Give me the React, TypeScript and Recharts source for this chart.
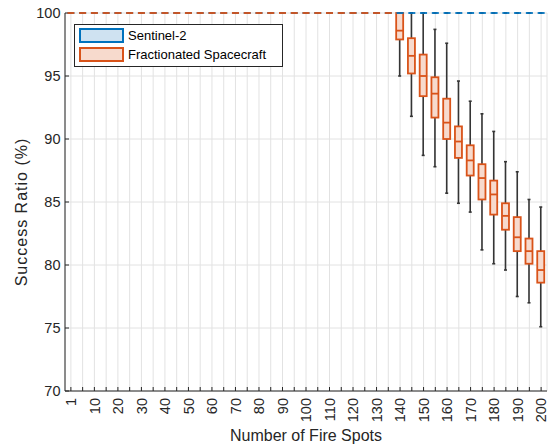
import { ComposedChart, Bar, Scatter, XAxis, YAxis, CartesianGrid, Legend, Label } from "recharts";

// number of fire spots on the x axis
const fireSpots = [
  1, 5, 10, 15, 20, 25, 30, 35, 40, 45, 50, 55, 60, 65, 70, 75, 80, 85, 90, 95, 100,
  105, 110, 115, 120, 125, 130, 135, 140, 145, 150, 155, 160, 165, 170, 175, 180, 185, 190, 195, 200,
];
const labelledSpots = [1, 10, 20, 30, 40, 50, 60, 70, 80, 90, 100, 110, 120, 130, 140, 150, 160, 170, 180, 190, 200];
const yTicks = [70, 75, 80, 85, 90, 95, 100];

// Sentinel-2: every run hits 100 %, so min = q1 = median = q3 = max
const sentinelValues = [
  100, 100, 100, 100, 100, 100, 100, 100, 100, 100, 100, 100, 100, 100, 100, 100, 100, 100, 100, 100, 100,
  100, 100, 100, 100, 100, 100, 100, 100, 100, 100, 100, 100, 100, 100, 100, 100, 100, 100, 100, 100,
];

// Fractionated Spacecraft box statistics
const fracMax = [
  100, 100, 100, 100, 100, 100, 100, 100, 100, 100, 100, 100, 100, 100, 100, 100, 100, 100, 100, 100, 100,
  100, 100, 100, 100, 100, 100, 100, 100, 100, 100, 98.7, 97.6, 94.6, 93.0, 92.0, 90.6, 88.2, 87.4, 85.2, 84.6,
];
const fracQ3 = [
  100, 100, 100, 100, 100, 100, 100, 100, 100, 100, 100, 100, 100, 100, 100, 100, 100, 100, 100, 100, 100,
  100, 100, 100, 100, 100, 100, 100, 100, 98.0, 96.7, 94.9, 93.2, 91.0, 89.5, 88.0, 86.7, 84.9, 83.8, 82.1, 81.1,
];
const fracMedian = [
  100, 100, 100, 100, 100, 100, 100, 100, 100, 100, 100, 100, 100, 100, 100, 100, 100, 100, 100, 100, 100,
  100, 100, 100, 100, 100, 100, 100, 98.6, 96.6, 95.0, 93.6, 91.3, 89.8, 88.3, 86.9, 85.6, 83.9, 82.2, 81.1, 79.6,
];
const fracQ1 = [
  100, 100, 100, 100, 100, 100, 100, 100, 100, 100, 100, 100, 100, 100, 100, 100, 100, 100, 100, 100, 100,
  100, 100, 100, 100, 100, 100, 100, 97.9, 95.2, 93.4, 91.7, 90.0, 88.5, 87.1, 85.2, 84.0, 82.8, 81.1, 80.1, 78.6,
];
const fracMin = [
  100, 100, 100, 100, 100, 100, 100, 100, 100, 100, 100, 100, 100, 100, 100, 100, 100, 100, 100, 100, 100,
  100, 100, 100, 100, 100, 100, 100, 95.0, 91.8, 88.7, 87.8, 85.7, 84.9, 84.2, 81.2, 80.1, 79.6, 77.5, 77.0, 75.1,
];

const FONT = '"Liberation Sans", Arial, Helvetica, sans-serif';
const TEXT = "#262626";
const BLUE = "#0072bd";
const BLUE_FILL = "#cfe2f1";
const ORANGE = "#d95319";
const ORANGE_FILL = "#f7dacd";
const WHISKER = "#353535";
const BOX_W = 7;

const series = [
  { name: "Sentinel-2", stroke: BLUE, fill: BLUE_FILL },
  { name: "Fractionated Spacecraft", stroke: ORANGE, fill: ORANGE_FILL },
];

const data = fireSpots.map((n, i) => ({
  n,
  sMin: sentinelValues[i],
  sQ1: sentinelValues[i],
  sMed: sentinelValues[i],
  sQ3: sentinelValues[i],
  sMax: sentinelValues[i],
  fMin: fracMin[i],
  fQ1: fracQ1[i],
  fMed: fracMedian[i],
  fQ3: fracQ3[i],
  fMax: fracMax[i],
}));

function WhiskerShape(props: any) {
  const { x, y, width, height } = props;
  if (x == null || y == null) return <g />;
  const cx = x + width / 2;
  const top = Math.min(y, y + height);
  const bottom = Math.max(y, y + height);
  return (
    <g>
      <line x1={cx} x2={cx} y1={top} y2={bottom} stroke={WHISKER} strokeWidth={1.6} />
      <line x1={cx - 1.5} x2={cx + 1.5} y1={top} y2={top} stroke={WHISKER} strokeWidth={1.6} />
      <line x1={cx - 1.5} x2={cx + 1.5} y1={bottom} y2={bottom} stroke={WHISKER} strokeWidth={1.6} />
    </g>
  );
}

function makeBoxShape(stroke: string, fill: string) {
  return (props: any) => {
    const { x, y, width, height } = props;
    const h = Math.abs(height || 0);
    if (x == null || h < 0.5) return <g />;
    const top = Math.min(y, y + height);
    return <rect x={x} y={top} width={width} height={h} fill={fill} stroke={stroke} strokeWidth={1.8} />;
  };
}

function makeMedianShape(stroke: string) {
  return (props: any) => {
    const { cx, cy } = props;
    if (cx == null || cy == null) return <g />;
    return <line x1={cx - BOX_W / 2} x2={cx + BOX_W / 2} y1={cy} y2={cy} stroke={stroke} strokeWidth={1.8} />;
  };
}

function XTick(props: any) {
  const { x, y, payload } = props;
  if (!labelledSpots.includes(payload.value)) return <g />;
  return (
    <text
      x={x}
      y={y}
      dy="0.36em"
      transform={`rotate(-90, ${x}, ${y})`}
      textAnchor="end"
      fill={TEXT}
      fontSize={14.5}
      fontFamily={FONT}
    >
      {payload.value}
    </text>
  );
}

function LegendBox() {
  return (
    <div
      style={{
        position: "relative",
        width: 209,
        height: 43,
        boxSizing: "border-box",
        border: `1px solid ${TEXT}`,
        background: "#fff",
        fontFamily: FONT,
        fontSize: 13,
        color: "#000",
      }}
    >
      {series.map((s, i) => (
        <div key={s.name} style={{ position: "absolute", left: 4, top: 3 + i * 19, height: 15, display: "flex", alignItems: "center" }}>
          <span
            style={{
              display: "inline-block",
              width: 45,
              height: 15,
              boxSizing: "border-box",
              border: `2px solid ${s.stroke}`,
              background: s.fill,
            }}
          />
          <span style={{ marginLeft: 4, lineHeight: "15px", whiteSpace: "nowrap" }}>{s.name}</span>
        </div>
      ))}
    </div>
  );
}

function YTitle(props: any) {
  const vb = props.viewBox || { x: 0, y: 13, width: 65, height: 378 };
  const x = vb.x + 21;
  const y = vb.y + vb.height / 2 + 10;
  return (
    <text
      x={x}
      y={y}
      dy="0.36em"
      transform={`rotate(-90, ${x}, ${y})`}
      textAnchor="middle"
      fill={TEXT}
      fontSize={16}
      letterSpacing={1}
      fontFamily={FONT}
    >
      Success Ratio (%)
    </text>
  );
}

const empty = () => <g />;

export default function App() {
  return (
    <div style={{ position: "absolute", left: 0, top: 0, width: 548, height: 444, background: "#fff" }}>
      <ComposedChart
        width={548}
        height={444}
        data={data}
        margin={{ top: 13, right: 1, bottom: 0, left: 0 }}
        barGap={-BOX_W}
        barSize={BOX_W}
      >
        <CartesianGrid stroke="#e2e2e2" strokeWidth={1} />
        <XAxis
          dataKey="n"
          type="category"
          interval={0}
          height={53}
          tickSize={-4}
          tickMargin={11}
          tick={<XTick />}
          axisLine={{ stroke: TEXT }}
          tickLine={{ stroke: TEXT }}
        >
          <Label
            value="Number of Fire Spots"
            position="insideBottom"
            offset={3}
            style={{ fontSize: 16, fill: TEXT, fontFamily: FONT }}
          />
        </XAxis>
        <XAxis
          xAxisId="top"
          dataKey="n"
          type="category"
          orientation="top"
          interval={0}
          height={0}
          tickSize={-4}
          tick={empty}
          axisLine={{ stroke: "#8f8f8f" }}
          tickLine={{ stroke: TEXT }}
        />
        <YAxis
          type="number"
          domain={[70, 100]}
          ticks={yTicks}
          width={65}
          tickSize={-4}
          tickMargin={8.5}
          tick={{ fill: TEXT, fontSize: 14.5, fontFamily: FONT }}
          axisLine={{ stroke: TEXT }}
          tickLine={{ stroke: TEXT }}
        >
          <Label content={<YTitle />} />
        </YAxis>
        <YAxis
          yAxisId="right"
          type="number"
          orientation="right"
          domain={[70, 100]}
          ticks={yTicks}
          width={0}
          tickSize={-4}
          tick={empty}
          axisLine={{ stroke: TEXT }}
          tickLine={{ stroke: TEXT }}
        />
        <Bar dataKey={(d: any) => [d.sMin, d.sMax]} shape={WhiskerShape} isAnimationActive={false} legendType="none" />
        <Bar dataKey={(d: any) => [d.sQ1, d.sQ3]} shape={makeBoxShape(BLUE, BLUE_FILL)} isAnimationActive={false} legendType="none" />
        <Scatter dataKey="sMed" shape={makeMedianShape(BLUE)} isAnimationActive={false} legendType="none" />
        <Bar dataKey={(d: any) => [d.fMin, d.fMax]} shape={WhiskerShape} isAnimationActive={false} legendType="none" />
        <Bar dataKey={(d: any) => [d.fQ1, d.fQ3]} shape={makeBoxShape(ORANGE, ORANGE_FILL)} isAnimationActive={false} legendType="none" />
        <Scatter dataKey="fMed" shape={makeMedianShape(ORANGE)} isAnimationActive={false} legendType="none" />
        <Legend
          content={<LegendBox />}
          layout="vertical"
          align="center"
          verticalAlign="middle"
          wrapperStyle={{ left: 74, top: 24, width: 209, height: 43 }}
        />
      </ComposedChart>
    </div>
  );
}
